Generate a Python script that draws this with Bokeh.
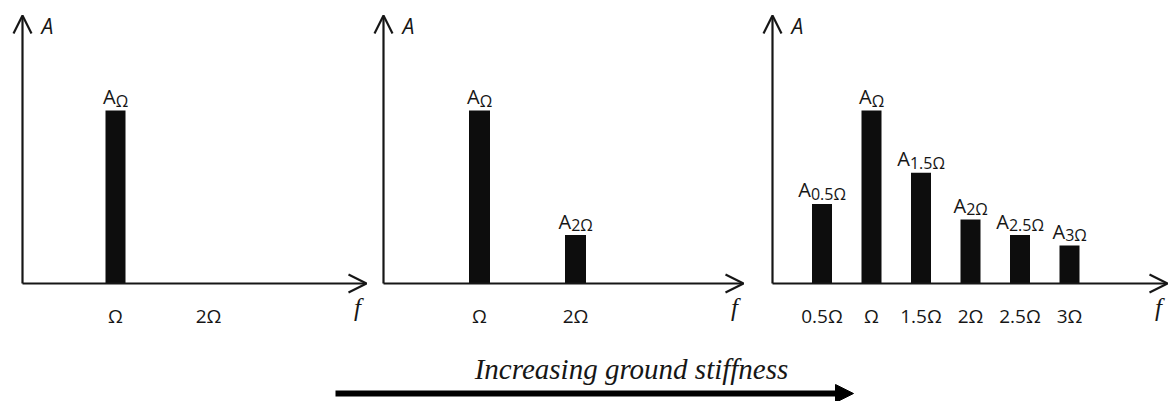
from bokeh.plotting import figure
from bokeh.models import Range1d, Arrow, OpenHead, NormalHead, ColumnDataSource
from bokeh.layouts import column, row
from bokeh.core.properties import value
from bokeh.embed import file_html
from bokeh.resources import INLINE

# ---------------- data ----------------
panel1_freqs = [1.0]
panel1_amps = [1.0]
panel1_subs = ["Ω"]
panel1_ticks = [1.0, 2.0]
panel1_tick_labels = ["Ω", "2Ω"]

panel2_freqs = [1.0, 2.0]
panel2_amps = [1.0, 0.28]
panel2_subs = ["Ω", "2Ω"]
panel2_ticks = [1.0, 2.0]
panel2_tick_labels = ["Ω", "2Ω"]

panel3_freqs = [0.5, 1.0, 1.5, 2.0, 2.5, 3.0]
panel3_amps = [0.46, 1.0, 0.64, 0.37, 0.28, 0.22]
panel3_subs = ["0.5Ω", "Ω", "1.5Ω", "2Ω", "2.5Ω", "3Ω"]
panel3_ticks = [0.5, 1.0, 1.5, 2.0, 2.5, 3.0]
panel3_tick_labels = ["0.5Ω", "Ω", "1.5Ω", "2Ω", "2.5Ω", "3Ω"]

x_axis_name = "f"
y_axis_name = "A"
amp_symbol = "A"
caption = "Increasing ground stiffness"

# ---------------- style ----------------
SANS = "Open Sans"
SERIF = "Liberation Serif"
INK = "#161616"
BAR = "#0d0d0d"
PANEL_H = 330
BASE_PX = 283          # baseline position from top
PX_PER_AMP = 173.0
TOP_PX = 15            # y-axis arrow tip from top
A_SIZE = 20
SUB_SIZE = 16
TICK_SIZE = 19

CHAR_EM = {"0": 0.572, "1": 0.572, "2": 0.572, "3": 0.572, "5": 0.572,
           ".": 0.266, "Ω": 0.76, "A": 0.633}


def text_w(s, size):
    return sum(CHAR_EM.get(c, 0.57) for c in s) * size


def make_panel(width, origin_px, ppu, axis_end_px, freqs, amps, subs, ticks, tick_labels, bar_px=20):
    y0 = -(PANEL_H - BASE_PX) / PX_PER_AMP
    y1 = BASE_PX / PX_PER_AMP
    x0 = -origin_px / ppu
    x1 = (width - origin_px) / ppu
    p = figure(width=width, height=PANEL_H, x_range=Range1d(x0, x1), y_range=Range1d(y0, y1),
               x_axis_type=None, y_axis_type=None, toolbar_location=None,
               output_backend="svg", min_border=0)
    p.outline_line_color = None
    p.grid.visible = False
    p.background_fill_color = "white"

    # bars
    src = ColumnDataSource(dict(x=freqs, top=amps))
    p.vbar(x="x", top="top", bottom=0, width=bar_px / ppu, source=src,
           fill_color=BAR, line_color=None)

    # bar labels A_sub
    a_w = text_w(amp_symbol, A_SIZE)
    joins = [(a_w - text_w(s, SUB_SIZE)) / 2.0 for s in subs]
    lsrc = ColumnDataSource(dict(x=freqs, y=amps, sub=subs, a=[amp_symbol] * len(subs), off=joins))
    p.text(x="x", y="y", text="a", x_offset="off", y_offset=-14, source=lsrc,
           text_align="right", text_baseline="alphabetic",
           text_font=value(SANS), text_font_size=f"{A_SIZE}px", text_color=INK)
    p.text(x="x", y="y", text="sub", x_offset="off", y_offset=-10, source=lsrc,
           text_align="left", text_baseline="alphabetic",
           text_font=value(SANS), text_font_size=f"{SUB_SIZE}px", text_color=INK)

    # tick labels
    tsrc = ColumnDataSource(dict(x=ticks, y=[0] * len(ticks), t=tick_labels))
    p.text(x="x", y="y", text="t", y_offset=32, source=tsrc,
           text_align="center", text_baseline="alphabetic",
           text_font=value(SANS), text_font_size=f"{TICK_SIZE}px", text_color=INK)

    # axes as arrows
    x_end = (axis_end_px - origin_px) / ppu
    y_end = (BASE_PX - TOP_PX) / PX_PER_AMP
    p.add_layout(Arrow(x_start=0, y_start=0, x_end=x_end, y_end=0, line_width=2.2, line_color=INK,
                       end=OpenHead(size=18, line_width=2.2, line_color=INK)))
    p.add_layout(Arrow(x_start=0, y_start=0, x_end=0, y_end=y_end, line_width=2.2, line_color=INK,
                       end=OpenHead(size=18, line_width=2.2, line_color=INK)))

    # axis names
    p.text(x=[0], y=[y_end], text=[y_axis_name], x_offset=19, y_offset=10,
           text_align="left", text_baseline="middle", text_font=value(SANS),
           text_font_style="italic", text_font_size="21px", text_color=INK)
    p.text(x=[x_end], y=[0], text=[x_axis_name], x_offset=-9, y_offset=24,
           text_align="center", text_baseline="middle", text_font=value(SERIF),
           text_font_style="italic", text_font_size="25px", text_color=INK)
    return p


p1 = make_panel(372, 22, 93.0, 366, panel1_freqs, panel1_amps, panel1_subs,
                panel1_ticks, panel1_tick_labels)
p2 = make_panel(388, 11, 96.0, 371, panel2_freqs, panel2_amps, panel2_subs,
                panel2_ticks, panel2_tick_labels, bar_px=21)
p3 = make_panel(410, 12, 99.0, 407, panel3_freqs, panel3_amps, panel3_subs,
                panel3_ticks, panel3_tick_labels)

# bottom caption + arrow
p4 = figure(width=1170, height=401 - PANEL_H, x_range=Range1d(0, 1170), y_range=Range1d(401 - PANEL_H, 0),
            x_axis_type=None, y_axis_type=None, toolbar_location=None, output_backend="svg", min_border=0)
p4.outline_line_color = None
p4.grid.visible = False
p4.text(x=[631], y=[38], text=[caption], text_align="center", text_baseline="alphabetic",
        text_font=value(SERIF), text_font_style="italic", text_font_size="29px", text_color=INK)
p4.add_layout(Arrow(x_start=335, y_start=63, x_end=853, y_end=63, line_width=6, line_color="black",
                    end=NormalHead(size=18, fill_color="black", line_color="black", line_width=1)))

layout = column(row(p1, p2, p3, spacing=0), p4, spacing=0)

with open("out.html", "w") as fh:
    fh.write(file_html(layout, INLINE))
